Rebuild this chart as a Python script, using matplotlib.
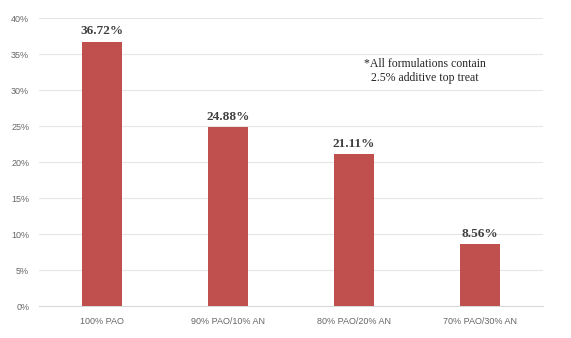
import matplotlib
matplotlib.use("Agg")
import matplotlib.pyplot as plt
from matplotlib.ticker import FuncFormatter

categories = ["100% PAO", "90% PAO/10% AN", "80% PAO/20% AN", "70% PAO/30% AN"]
values = [36.72, 24.88, 21.11, 8.56]
yticks = [0, 5, 10, 15, 20, 25, 30, 35, 40]
note = "*All formulations contain\n2.5% additive top treat"

fig = plt.figure(figsize=(5.71, 3.38), dpi=100)
ax = fig.add_axes([39/571, 32/338, 504/571, 288/338])

x = list(range(len(categories)))
ax.bar(x, values, width=0.32, color="#C0504D", zorder=3)
ax.set_xlim(-0.5, len(categories) - 0.5)
ax.set_ylim(0, 40)
ax.set_yticks(yticks)
ax.yaxis.set_major_formatter(FuncFormatter(lambda v, p: f"{v:.0f}%"))
ax.set_xticks(x)
ax.set_xticklabels(categories)

for s in ["top", "right", "left"]:
    ax.spines[s].set_visible(False)
ax.spines["bottom"].set_color("#D9D9D9")
ax.spines["bottom"].set_linewidth(0.8)
ax.grid(axis="y", color="#E6E6E6", linewidth=0.8, zorder=0)
ax.tick_params(axis="both", length=0, labelsize=6.5, colors="#666666")
ax.tick_params(axis="y", pad=7)
ax.tick_params(axis="x", pad=8)
for lbl in ax.get_xticklabels() + ax.get_yticklabels():
    lbl.set_family("Liberation Sans")

for xi, v in zip(x, values):
    ax.annotate(f"{v:.2f}%", (xi, v), xytext=(0, 3), textcoords="offset points",
                ha="center", va="bottom", fontsize=9.5, fontweight="bold",
                family="Liberation Serif", color="#404040")

ax.text(2.56, 32.6, note, ha="center", va="center", fontsize=8.5,
        family="Liberation Serif", color="#262626", linespacing=1.2)

fig.savefig("out.png", dpi=100, facecolor="white")
